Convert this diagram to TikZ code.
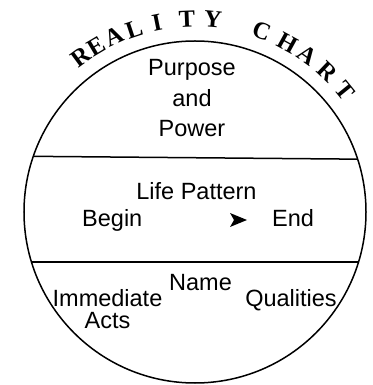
\documentclass[tikz,border=0pt]{standalone}
\usepackage{fontspec}
\setmainfont{Liberation Sans}
\newfontfamily\titlefont{Liberation Serif}
\begin{document}
\begin{tikzpicture}[x=1pt, y=1pt,
    label/.style={font=\fontsize{23.5}{30.5}\selectfont, inner sep=0pt, align=center},
    letter/.style={font=\titlefont\bfseries\fontsize{24.5}{24.5}\selectfont, inner sep=0pt},
    divider/.style={line width=1.5pt}
]
    \useasboundingbox (-195,-173) rectangle (177,212);

    % Chart circle
    \node[circle, draw, line width=1.5pt, minimum size=342pt, inner sep=0pt, outer sep=0pt] (chart) at (0,0) {};

    % Title along the top
    \foreach \ch/\ang [count=\i] in {R/126.3, E/120.7, A/114.7, L/108.4, I/101.4, T/92.4, Y/84.7,
                                     C/69.8, H/61.2, A/54.2, R/46.5, T/39}
        \node[letter, rotate=\ang-90] (title\i) at (\ang:193) {\ch};

    % Dividers
    \draw[divider] (chart.161.4) -- (chart.18.6);
    \draw[divider] (chart.197.35) -- (chart.-17.35);

    % Top section
    \node[label, anchor=base] (purpose) at (-3,75) {Purpose\\and\\Power};

    % Middle section
    \node[label, anchor=base] (pattern) at (1.5,12) {Life Pattern};
    \node[label, anchor=base west] (begin) at (-113,-15) {Begin};
    \node[label, anchor=base west] (end) at (77,-15) {End};
    \fill (52,-8) -- (35,-1) -- (39,-8) -- (35,-15) -- cycle;

    % Bottom section
    \node[label, anchor=base] (name) at (5.5,-78) {Name};
    \node[label, font=\fontsize{23.5}{22}\selectfont, anchor=base] (immediate) at (-87.5,-116) {Immediate\\Acts};
    \node[label, anchor=base] (qualities) at (96,-94) {Qualities};
\end{tikzpicture}
\end{document}
